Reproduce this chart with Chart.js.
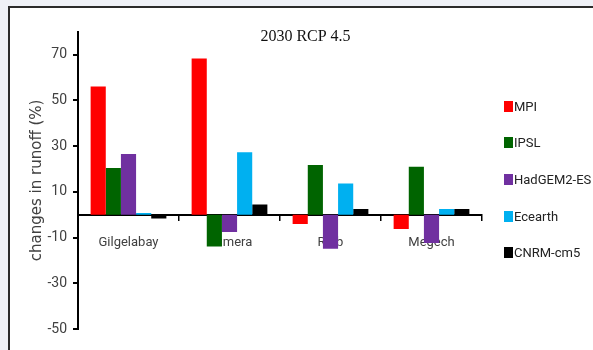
<!DOCTYPE html>
<html>
<head>
<meta charset="utf-8">
<script src="https://cdn.jsdelivr.net/npm/chart.js@4.4.1/dist/chart.umd.min.js"></script>
<style>
    html, body { margin: 0; padding: 0; }
    body { width: 593px; height: 350px; background: #eff1f7; position: relative; overflow: hidden; }
    .frame { position: absolute; left: 8px; top: 6px; right: -10px; bottom: -10px; background: #fff; border-left: 2px solid #2b2b2b; border-top: 2px solid #2b2b2b; }
    #chart { position: absolute; left: 0; top: 0; }
    #legend { position: absolute; left: 504px; top: 88px; margin: 0; padding: 0; list-style: none; font-family: Roboto, sans-serif; font-size: 13px; color: #222; }
    #legend li { display: flex; align-items: center; height: 36.6px; white-space: nowrap; }
    #legend .box { display: inline-block; width: 9px; height: 11px; margin-right: 1px; }
</style>
</head>
<body>
<div class="frame"></div>
<canvas id="chart" width="593" height="350"></canvas>
<ul id="legend"></ul>
<script>
// Chart data
const catchments = ['Gilgelabay', 'Gumera', 'Ribb', 'Megech'];
const mpi = [56, 68.3, -4.1, -6.3];
const ipsl = [20.4, -13.9, 21.7, 21];
const hadgem = [26.5, -7.6, -14.9, -12.4];
const ecearth = [0.7, 27.3, 13.6, 2.5];
const cnrm = [-1.7, 4.4, 2.5, 2.5];
const yTicks = [-50, -30, -10, 10, 30, 50, 70];

Chart.defaults.font.family = 'Roboto, sans-serif';

// Build the legend as html from the chart's own legend items
const htmlLegend = {
    id: 'htmlLegend',
    afterUpdate(chart) {
        const list = document.getElementById('legend');
        const items = chart.options.plugins.legend.labels.generateLabels(chart);
        list.innerHTML = items.map(item => `
            <li><span class="box" style="background:${item.fillStyle}"></span>${item.text}</li>
        `).join('');
    }
};

const ctx = document.getElementById('chart').getContext('2d');

new Chart(ctx, {
    type: 'bar',
    data: {
        labels: catchments,
        datasets: [
            { label: 'MPI', data: mpi, backgroundColor: '#ff0000' },
            { label: 'IPSL', data: ipsl, backgroundColor: '#006400' },
            { label: 'HadGEM2-ES', data: hadgem, backgroundColor: '#7030a0' },
            { label: 'Ecearth', data: ecearth, backgroundColor: '#00b0f0' },
            { label: 'CNRM-cm5', data: cnrm, backgroundColor: '#000000' }
        ]
    },
    plugins: [htmlLegend],
    options: {
        responsive: false,
        animation: false,
        devicePixelRatio: 1,
        datasets: {
            bar: { categoryPercentage: 0.75, barPercentage: 1, borderWidth: 0 }
        },
        layout: {
            padding: { left: 18, right: 0, top: 0, bottom: 21 }
        },
        plugins: {
            title: {
                display: true,
                text: '2030 RCP 4.5',
                color: '#111',
                font: { family: "'Liberation Serif', serif", size: 16, weight: 'normal' },
                padding: { top: 27.4, bottom: -14.9 }
            },
            legend: { display: false },
            tooltip: { enabled: false }
        },
        scales: {
            x: {
                position: { y: 0 },
                grid: {
                    offset: true,
                    drawOnChartArea: false,
                    drawTicks: true,
                    tickLength: 5,
                    color: '#000',
                    lineWidth: 1.5
                },
                border: { display: true, color: '#000', width: 2 },
                ticks: {
                    color: '#404040',
                    padding: 15,
                    font: { size: 13 }
                }
            },
            y: {
                min: -50,
                max: 80,
                afterBuildTicks: scale => {
                    scale.ticks = yTicks.map(v => ({ value: v }));
                },
                afterFit: scale => {
                    scale.width = 60;
                },
                grid: {
                    drawOnChartArea: false,
                    drawTicks: true,
                    tickLength: 5,
                    color: '#000',
                    lineWidth: 2
                },
                border: { display: true, color: '#000', width: 2 },
                ticks: {
                    color: '#404040',
                    padding: 6,
                    font: { size: 14 }
                },
                title: {
                    display: true,
                    text: 'changes in runoff (%)',
                    color: '#404040',
                    font: { family: "'DejaVu Sans', sans-serif", size: 15 },
                    padding: { top: 10, bottom: 0 }
                }
            },
            // empty right axis, only keeps room for the html legend
            legendSpace: {
                position: 'right',
                grid: { display: false },
                border: { display: false },
                ticks: { display: false },
                afterFit: scale => {
                    scale.width = 111;
                }
            }
        }
    }
});
</script>
</body>
</html>
